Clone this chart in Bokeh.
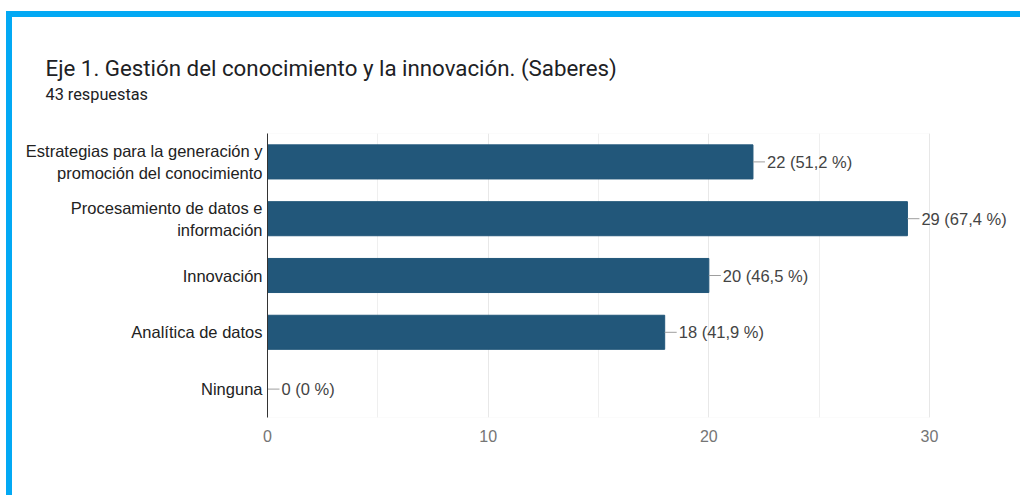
from bokeh.plotting import figure
from bokeh.models import Range1d, FactorRange, ColumnDataSource, FixedTicker, BoxAnnotation
from bokeh.layouts import column
from bokeh.embed import file_html
from bokeh.resources import INLINE
from bokeh.core.properties import value

title_text = "Eje 1. Gestión del conocimiento y la innovación. (Saberes)"
subtitle_text = "43 respuestas"
total = 43
categories = [
    "Estrategias para la generación y\npromoción del conocimiento",
    "Procesamiento de datos e\ninformación",
    "Innovación",
    "Analítica de datos",
    "Ninguna",
]
counts = [22, 29, 20, 18, 0]
x_ticks = [0, 10, 20, 30]
x_minor = [5, 15, 25]


def fmt_pct(c):
    v = round(c / total * 100, 1)
    s = str(int(v)) if v == int(v) else f"{v:.1f}".replace(".", ",")
    return f"{c} ({s} %)"


labels = [fmt_pct(c) for c in counts]

W = 1008
HEAD_H = 106
CHART_H = 372
frame_left = 255
frame_w_axis = 662      # pixels covered by 0..30
frame_h = 284
x_max = 30
frame_w = W - frame_left
x_end = x_max * frame_w / frame_w_axis
lead_px = 12
lead_end = [c + lead_px * x_max / frame_w_axis for c in counts]

FONT = "Liberation Sans"
TFONT = "Roboto"

# ---- header (title + subtitle) ----
head = figure(width=W, height=HEAD_H, x_range=Range1d(0, W), y_range=Range1d(HEAD_H, 0),
              x_axis_type=None, y_axis_type=None, output_backend="svg", toolbar_location=None,
              min_border=0, frame_align=False)
head.title.visible = False
head.outline_line_color = None
head.background_fill_color = "white"
head.border_fill_color = "white"
head.grid.visible = False
head.text(x=[33], y=[50], text=[title_text], text_font=value(TFONT), text_font_size="22.3px",
          text_color="#202124", text_baseline="alphabetic")
head.text(x=[33], y=[77], text=[subtitle_text], text_font=value(TFONT), text_font_size="16.3px",
          text_color="#202124", text_baseline="alphabetic")

# ---- chart ----
src = ColumnDataSource(dict(cat=categories, count=counts, label=labels, lead_end=lead_end))

p = figure(
    width=W, height=CHART_H,
    y_range=FactorRange(factors=list(reversed(categories))),
    x_range=Range1d(0, x_end),
    output_backend="svg", toolbar_location=None,
    min_border_left=frame_left, min_border_right=0, min_border_top=10,
    min_border_bottom=CHART_H - 10 - frame_h, frame_align=False,
)
p.background_fill_color = "white"
p.border_fill_color = "white"
p.outline_line_color = None

p.add_layout(BoxAnnotation(left=0, right=x_max, fill_alpha=0, line_color="#e6e6e6", line_width=1,
                           level="underlay"))

p.hbar(y="cat", left=0, right="count", height=0.6, color="#22577a", source=src)
p.segment(x0="count", y0="cat", x1="lead_end", y1="cat", line_color="#9e9e9e", line_width=1, source=src)
p.text(x="count", y="cat", text="label", x_offset=14, text_baseline="middle", text_align="left",
       text_font=value(FONT), text_font_size="16.5px", text_color="#444444", source=src)

xa = p.xaxis[0]
xa.ticker = FixedTicker(ticks=x_ticks, minor_ticks=x_minor)
xa.axis_line_color = None
xa.major_tick_line_color = None
xa.minor_tick_line_color = None
xa.major_tick_out = 0
xa.minor_tick_out = 0
xa.major_label_standoff = 12
xa.major_label_text_font = FONT
xa.major_label_text_font_size = "16px"
xa.major_label_text_color = "#757575"

ya = p.yaxis[0]
ya.axis_line_color = "#333333"
ya.major_tick_line_color = None
ya.minor_tick_line_color = None
ya.major_tick_out = 0
ya.major_label_standoff = 5
ya.major_label_text_font = FONT
ya.major_label_text_font_size = "16.5px"
ya.major_label_text_color = "#222222"
ya.major_label_text_line_height = 1.2

p.xgrid.grid_line_color = "#e8e8e8"
p.xgrid.minor_grid_line_color = "#efefef"
p.ygrid.grid_line_color = None

layout = column(head, p, styles={
    "border-top": "6px solid #03a9f4",
    "border-left": "6px solid #03a9f4",
    "position": "relative",
    "top": "11px",
    "left": "6px",
})

open("out.html", "w").write(file_html(layout, INLINE))
